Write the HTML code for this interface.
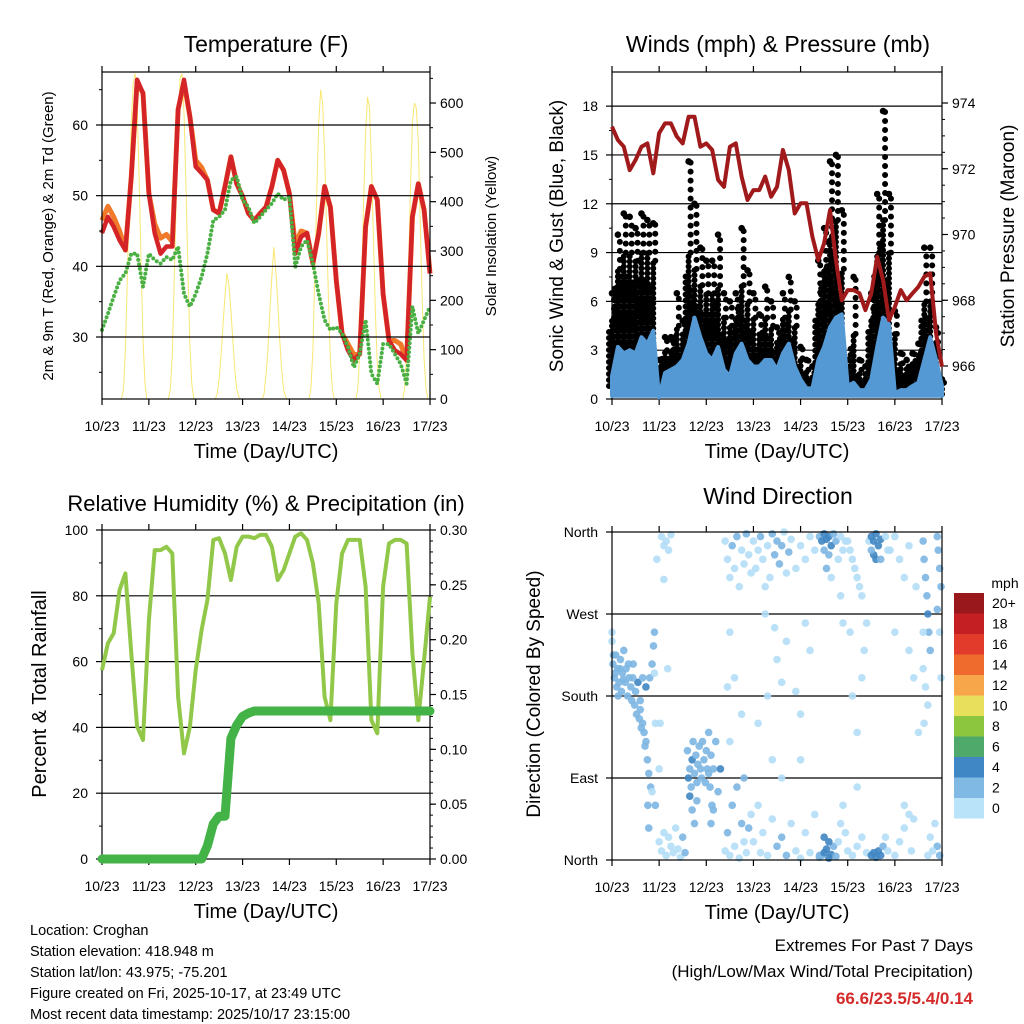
<!DOCTYPE html>
<html><head><meta charset="utf-8"><style>
html,body{margin:0;padding:0;background:#fff}
svg{display:block;font-family:"Liberation Sans",sans-serif}
</style></head><body>
<svg id="c" width="1024" height="1024" viewBox="0 0 1024 1024" xmlns="http://www.w3.org/2000/svg"></svg>
<script>
// ---- data (3-hourly samples, day 0..7) ----
const dayLabels=["10/23","11/23","12/23","13/23","14/23","15/23","16/23","17/23"];
const tempRed=[44.7,47,45.6,43.7,42.3,52.7,66.4,64.5, 50.3,44.7,41.8,42.8,42.8,62.2,66.4,61.2,54.1, 53.2,52.2,48,47.5,51.3,55.5,51.7,49.9, 47.5,46.5,47.5,48.4,51.3,55,53.6,50.3, 41.8,44.2,44.7,40.4,44.7,51.3,48.4,38, 30.5,28.1,26.7,27.6,45.6,51.3,49.4,36.1, 29.5,28.1,27.6,26.7,47,51.7,48,39];
const tempOrange=[46.5,48.5,47,45,42.3,52.7,66,64.5, 50.3,46,44,44.5,43.5,62.2,66,61.2,55, 54,52.2,48,47.5,51.3,55.5,51.7,49.9, 47.5,46.5,47.5,48.4,51.3,55,53.6,50.3, 43,45,44.7,40.4,44.7,51.3,48.4,38, 30.5,29,27.5,27.6,45.6,51.3,49.4,36.1, 29.5,29.5,29,26.7,47,51.7,48,39];
const dewGreen=[31,33.3,35.7,38,39,41.8,41.8,37.1, 41.8,40.9,40.4,41.3,40.9,42.8,36.1,34.3,36.1, 38.5,41.8,46.5,47,48,52.2,52.7,49.4, 48.4,46.1,47,48,48.9,50.3,49.4,49.9, 39.9,42.8,43.7,40.4,36.1,32.4,31,31.4, 30.5,28.6,25.7,27.6,32.4,24.8,23.4,29, 29,27.6,26.2,23.4,34.3,30.5,32.4,34.3];
// hourly solar insolation
const solar=[0,0,0,0,0,0,0,0,0,0,0,20,100,250,420,560,640,660,600,450,280,120,30,0,
0,0,0,0,0,0,0,0,0,0,0,20,90,240,400,560,650,660,580,430,260,110,30,0,
0,0,0,0,0,0,0,0,0,0,0,10,40,90,150,210,255,230,180,120,60,20,5,0,
0,0,0,0,0,0,0,0,0,0,0,10,50,100,180,250,308,260,200,120,60,20,5,0,
0,0,0,0,0,0,0,0,0,0,0,20,100,250,420,560,627,600,500,350,200,80,20,0,
0,0,0,0,0,0,0,0,0,0,0,20,90,230,400,540,612,590,480,330,180,70,20,0,
0,0,0,0,0,0,0,0,0,0,0,20,100,260,430,560,600,590,520,360,200,80,20,0,0];
const pressure=[973.28,972.87,972.67,971.96,972.27,972.67,972.77,971.86, 973.08,973.38,973.38,972.98,972.77,973.58,973.58,972.67,972.77, 972.57,971.66,971.45,972.67,972.77,971.76,971.05,971.35, 971.35,971.76,971.15,971.45,972.57,971.96,970.64,970.95, 970.95,969.93,969.22,969.73,970.74,969.22,968.0,968.31, 968.31,968.21,967.70,968.21,969.32,968.61,967.40,967.80, 968.31,968.0,968.21,968.41,968.72,968.82,966.99,965.98];
const windSpd=[1.4,3.2,2.8,3.0,2.8,3.8,3.4,4.2, 0.1,1.6,1.8,2.0,2.4,3.4,5.0,3.8,2.8, 2.4,3.2,1.8,1.4,2.8,3.4,2.4,2.0, 2.0,2.4,2.4,1.8,2.8,3.4,2.0,1.2, 0.65,0.65,2.4,3.2,4.4,5.0,5.2,0.8, 1.0,0.55,0.55,1.2,3.2,5.0,4.6,0.35, 0.55,0.55,0.8,1.0,2.4,3.8,2.4,0.8];
const gustHi=[6.5,10.1,11.4,11.2,10.5,11.4,11,10.8, 2.4,3.8,3.8,6.5,4.8,14.6,12,9.3,8.5, 8.5,10.1,6.5,6,6.5,10.5,7.9,6.5, 5.2,6.9,6,4.4,6.5,7.5,6,3.2, 2.4,2.0,8.5,10.5,14.6,15,11.6,2.4, 7.5,2.4,2,6.5,12.6,17.7,12.6,5.4, 2.8,2.4,2.8,3.4,9.3,9.3,4.4,1.2];
const gustCore=[5,8,9,9,8.5,9,9,8.5, 2,3,3,4.5,4,9,8,7,6.5, 6.5,7,5,4.5,5,7,6,5, 4,5,4.5,3.5,5,5.5,4.5,2.5, 1.8,1.6,6,8,10,11,8,2, 4,1.8,1.6,5,9,11,9,4, 2.2,2,2.2,2.8,6,6,3.5,1];
const gustLo=[0.8,2,2,2,2,2.5,2.5,2.5, 0.3,1,1,1.2,1.2,2,3,2,1.5, 1.5,1.5,1,1,1.5,2,1.5,1.2, 1.2,1.5,1.5,1,1.5,2,1,0.5, 0.4,0.4,1.5,2,3,3.5,2.5,0.4, 0.5,0.3,0.3,0.8,2,3,2.5,0.3, 0.3,0.3,0.3,0.5,1.5,2,1,0.3];
const rh=[57.4,65.6,68.6,81.8,86.8,62.5,40.2,36.2, 72.6,93.9,93.9,94.9,92.9,49.3,32.1,40.2,57.4, 69.6,78.7,97,97.5,92.9,84.8,94.9,98, 98,97.5,98.5,98.5,94.9,84.8,87.8,92.9, 98,99,97,89.9,77.7,49.3,42.2,77.7, 92.9,97,97,97,82.8,42.2,38.2,82.8, 95.9,97,97,95.9,62.5,42.2,60.5,79.7];
const precip=[0,0,0,0,0,0,0,0, 0,0,0,0,0,0,0,0,0, 0,0.012,0.032,0.039,0.039,0.11,0.122,0.13, 0.133,0.135,0.135,0.135,0.135,0.135,0.135,0.135, 0.135,0.135,0.135,0.135,0.135,0.135,0.135,0.135, 0.135,0.135,0.135,0.135,0.135,0.135,0.135,0.135, 0.135,0.135,0.135,0.135,0.135,0.135,0.135,0.135];
const dirDay=[0.02,0.05,0.08,0.1,0.12,0.15,0.18,0.2,0.22,0.25,0.28,0.3,0.33,0.36,0.4,0.42,0.45,0.48,0.5,0.52,0.55,0.58,0.6,0.62,0.65,0.68,0.7,0.72,0.75,0.78,0.8,0.82,0.85,0.88,0.9,0.92,0,0,0.03,0.07,0.13,0.17,0.24,0.35,0.44,0.6,0.65,0.72,0.76,0.78,0.9,0.92,0.85,
1.0,1.05,1.1,1.15,1.2,1.25,1.3,1.35,1.4,1.45,1.05,1.1,1.15,1.2,1.25,1.0,1.02,0.95,1.1,1.18,1.5,1.55,
1.6,1.62,1.65,1.68,1.7,1.72,1.75,1.78,1.8,1.82,1.85,1.88,1.9,1.92,1.95,1.98,2.0,2.02,2.05,2.08,2.1,2.12,2.15,2.2,2.25,1.65,1.7,1.75,1.8,2.1,2.15,2.05,2.3,
2.4,2.45,2.5,2.55,2.6,2.65,2.7,2.75,2.8,2.85,2.9,2.95,2.4,2.45,2.5,2.55,2.6,2.65,2.7,2.75,2.8,2.85,2.9,2.95,2.5,2.6,2.75,2.5,2.8,2.45,
3.0,3.05,3.1,3.15,3.2,3.25,3.3,3.35,3.4,3.45,3.5,3.55,3.6,3.65,3.7,3.75,3.8,3.9,4.0,4.1,4.2,4.3,
3.0,3.1,3.15,3.2,3.3,3.4,3.5,3.6,3.7,3.8,3.9,4.0,4.1,4.2,4.3,4.4,
3.1,3.3,3.5,3.6,3.7,3.9,4.0,4.1,4.2,3.4,3.6,4.0,3.25,3.45,
4.4,4.45,4.5,4.55,4.6,4.65,4.7,4.75,4.5,4.6,4.8,4.85,4.9,4.95,4.85,4.9,4.65,4.55,
4.4,4.45,4.5,4.55,4.6,4.65,4.7,4.75,4.8,4.85,4.9,4.95,4.5,4.6,
5.0,5.05,5.1,5.15,5.2,5.25,5.3,5.0,5.1,5.2,5.3,5.4,5.05,5.1,5.2,5.3,5.35,5.4,5.45,5.2,
5.5,5.55,5.6,5.65,5.7,5.55,5.6,5.5,5.7,5.8,5.85,
5.5,5.55,5.6,5.65,5.7,5.75,5.8,5.85,
5.9,6.0,6.1,6.2,6.3,6.0,6.1,6.2,6.3,6.35,6.4,6.2,6.0,6.3,6.4,6.5,6.45,
6.6,6.62,6.65,6.68,6.7,6.72,6.75,6.6,6.65,6.7,6.62,6.6,6.9,6.92,6.95,6.98,6.9,6.95,6.98,6.9,6.95,6.85,6.8,6.75,6.7];
const dirDeg=[215,200,225,190,210,195,220,185,205,230,195,210,180,200,190,175,215,170,185,160,195,155,175,145,200,140,125,190,110,95,200,80,215,235,250,60,250,240,225,205,180,210,198,215,200,165,150,130,60,35,205,150,75,
20,10,30,5,25,15,8,35,12,3,355,345,350,340,357,100,150,330,308,210,25,8,
120,90,100,80,110,130,95,115,85,105,125,100,90,130,110,85,120,100,95,80,115,60,100,130,75,70,55,40,65,40,55,140,100,
10,30,5,60,15,80,2,40,20,8,35,50,350,330,310,345,320,355,300,340,325,358,335,315,250,200,160,130,90,190,
350,320,340,355,330,300,345,310,358,335,350,325,345,360,315,338,352,320,345,330,355,340,
20,60,8,30,5,45,15,25,5,40,10,2,30,8,50,5,
150,180,220,195,240,185,160,260,230,110,90,110,270,255,
355,350,358,352,355,345,358,350,340,335,330,355,340,350,290,260,310,320,
3,5,8,12,2,6,15,4,20,40,60,30,25,20,
350,340,330,320,310,300,290,10,5,15,25,8,250,180,140,200,230,260,350,80,
355,350,358,345,352,335,330,340,330,355,340,
5,8,3,10,5,15,25,10,
340,355,330,310,345,5,20,35,50,10,45,60,250,230,200,140,300,
350,330,310,290,270,250,230,210,190,170,150,250,355,340,320,300,275,250,200,15,5,40,10,25,5];
const dirSpd=[3,3,3,3,2.5,3,3,3,3,3,3,3,3,3,3,3,3,3,3,3,4.5,3,3,3,3,3,3,4.5,3,3,3,3,3,3,3,3,1,1,3,3,3,3,3,3,3,3,3,3,3,3,1,1,1,
1,1,1,1,1,1,1,1,1,1,1,1,1,1,1,1,1,1,1,1,3,3,
3,5,3,3,4.5,3,3,3,3,3,3,3,3,3,3,3,3,3,3,3,3,3,3,3,3,4.5,3,3,3,3,3,3,4.5,
1,3,1,3,1,3,1,3,1,1,3,1,1,1,1,3,1,3,1,1,1,3,1,1,1,1,1,1,3,1,
1,1,1,3,1,1,1,1,3,3,3,3,3,1,1,3,1,1,1,1,1,1,
1,1,1,1,1,1,3,3,3,1,1,1,1,1,1,3,
1,1,1,1,1,1,1,1,1,1,1,1,1,1,
3,4.5,5,5.5,5,4.5,3,3,3,3,1,1,1,1,1,1,1,3,
3,3,4.5,5,5.5,5,3,3,1,1,1,1,5,4.5,
1,1,1,1,1,1,1,1,1,1,1,1,1,1,1,1,1,1,1,1,
4.5,5.5,5.5,5,4.5,5,5.5,3,3,1,1,
5,5.5,5.5,5,4.5,3,1,1,
1,1,1,1,1,1,1,1,1,1,1,1,1,1,1,1,1,
3,3,3,3,4.5,3,3,1,1,1,1,1,3,3,3,3,3,1,1,3,3,1,1,1,1];
const cbLabels=["20+","18","16","14","12","10","8","6","4","2","0"];
const cbColors=["#98181c","#c41f22","#e23a2b","#ef6a2d","#f8a64a","#e8df5c","#8cc63f","#4ea96b","#3f88c5","#80b9e4","#b9e3f8"];

// ---- helpers ----
const NS="http://www.w3.org/2000/svg";
const svg=document.getElementById('c');
function mk(tag,attrs,parent){const e=document.createElementNS(NS,tag);for(const k in attrs)e.setAttribute(k,attrs[k]);(parent||svg).appendChild(e);return e;}
function txt(s,x,y,size,anchor,parent,rot,extra){const a={x:x,y:y,'font-size':size,'text-anchor':anchor||'middle',fill:'#000'};if(rot)a.transform='rotate(-90 '+x+' '+y+')';if(extra)for(const k in extra)a[k]=extra[k];const t=mk('text',a,parent);t.textContent=s;return t;}
function linePath(xs,ys){let d='';for(let i=0;i<xs.length;i++)d+=(i?'L':'M')+xs[i].toFixed(1)+' '+ys[i].toFixed(1);return d;}

function panel(p){
  const g=mk('g',{});
  
  
  p.g=g;
  p.x=d=>p.x0+d*(p.x1-p.x0)/7;
  return p;
}
function frame(p,leftTicks,leftLab,yl,rightTicks,rightLab,yr,minorL,minorR,grid){
  const g=p.g;
  if(grid){leftTicks.forEach(v=>{const y=yl(v);if(y>p.y0+1&&y<p.y1-1){const l=mk('line',{x1:p.x0,x2:p.x1,y1:y,y2:y,stroke:'#000','stroke-width':1.2},g);}});}
  const r=mk('rect',{x:p.x0,y:p.y0,width:p.x1-p.x0,height:p.y1-p.y0,fill:'none',stroke:'#000','stroke-width':1.2},g);
  
  for(let d=0;d<=7;d++){const x=p.x(d);
    mk('line',{x1:x,x2:x,y1:p.y1,y2:p.y1+6,stroke:'#000','stroke-width':1.2},g);
    mk('line',{x1:x,x2:x,y1:p.y0,y2:p.y0-6,stroke:'#000','stroke-width':1.2},g);
    const t=txt(dayLabels[d],x,p.y1+32,14,'middle',g);}
  const xt=txt('Time (Day/UTC)',(p.x0+p.x1)/2,p.y1+59,20,'middle',g);
  leftTicks.forEach((v,i)=>{const y=yl(v);mk('line',{x1:p.x0-6,x2:p.x0,y1:y,y2:y,stroke:'#000','stroke-width':1.2},g);
    const t=txt(leftLab[i],p.x0-14,y+5,14,'end',g);});
  (minorL||[]).forEach(v=>{const y=yl(v);mk('line',{x1:p.x0-3,x2:p.x0,y1:y,y2:y,stroke:'#000','stroke-width':1},g);});
  if(rightTicks){rightTicks.forEach((v,i)=>{const y=yr(v);mk('line',{x1:p.x1,x2:p.x1+6,y1:y,y2:y,stroke:'#000','stroke-width':1.2},g);
    const t=txt(rightLab[i],p.x1+10,y+5,14,'start',g);});
    (minorR||[]).forEach(v=>{const y=yr(v);mk('line',{x1:p.x1,x2:p.x1+3,y1:y,y2:y,stroke:'#000','stroke-width':1},g);});}
}
function rng(a,b,s){const r=[];for(let v=a;v<=b+1e-9;v+=s)r.push(+v.toFixed(4));return r;}
const step3=i=>i*0.125;

// ===== Panel 1: temperature =====
const p1=panel({name:'temperature-panel',x0:102,x1:430,y0:72,y1:399});
const t1=txt('Temperature (F)',266,52,23,'middle');
const yT=v=>337-(v-30)*7.0667, yS=v=>399-v*0.4933;
{
  const g=p1.g;
  const sx=solar.map((v,i)=>p1.x(i/24)), sy=solar.map(v=>yS(v));
  const s=mk('path',{d:linePath(sx,sy),fill:'none',stroke:'#f7e35a','stroke-width':1,'stroke-opacity':0.85},g);
  
  const xs=tempRed.map((v,i)=>p1.x(step3(i)));
  const o=mk('path',{d:linePath(xs,tempOrange.map(yT)),fill:'none',stroke:'#f07a2a','stroke-width':5,'stroke-linejoin':'round'},g);
  
  const r=mk('path',{d:linePath(xs,tempRed.map(yT)),fill:'none',stroke:'#d42427','stroke-width':4.5,'stroke-linejoin':'round'},g);
  
  const gr=mk('path',{d:linePath(xs,dewGreen.map(yT)),fill:'none',stroke:'#4bb044','stroke-width':4,'stroke-dasharray':'0 4.5','stroke-linecap':'round','stroke-linejoin':'round'},g);
  
}
frame(p1,[30,40,50,60],['30','40','50','60'],yT,rng(0,600,100),['0','100','200','300','400','500','600'],yS,[25,35,45,55,65],rng(50,650,100),true);
{const a=txt('2m & 9m T (Red, Orange) & 2m Td (Green)',53,236,15,'middle',null,true);
 const b=txt('Solar Insolation (Yellow)',496,236,15,'middle',null,true);}

// ===== Panel 2: winds & pressure =====
const p2=panel({name:'winds-pressure-panel',x0:612,x1:942,y0:72,y1:399});
const t2=txt('Winds (mph) & Pressure (mb)',778,52,23,'middle');
const yW=v=>399-v*16.27, yP=v=>366-(v-966)*32.875;
frame(p2,rng(0,18,3),['0','3','6','9','12','15','18'],yW,rng(966,974,2),['966','968','970','972','974'],yP,[1.5,4.5,7.5,10.5,13.5,16.5],rng(965.5,973.5,0.5),true);
{
  const g=p2.g;
  gustHi.forEach((v,i)=>{const x=p2.x(step3(i));
    const c=mk('line',{x1:x,x2:x,y1:yW(gustLo[i]),y2:yW(gustCore[i]),stroke:'#000','stroke-width':6,'stroke-dasharray':'0 5','stroke-linecap':'round'},g);
    
    const c2=mk('line',{x1:x-3,x2:x-3,y1:yW(gustLo[i]),y2:yW(gustCore[i]*0.85),stroke:'#000','stroke-width':6,'stroke-dasharray':'0 6','stroke-linecap':'round'},g);
    
    const u=mk('line',{x1:x+2,x2:x+2,y1:yW(gustCore[i]),y2:yW(v),stroke:'#000','stroke-width':6,'stroke-dasharray':'0 9','stroke-linecap':'round'},g);
    
    const d=mk('circle',{cx:x,cy:yW(v),r:3.3,fill:'#000'},g);
    });
  const xs=windSpd.map((v,i)=>p2.x(step3(i)));
  const area='M'+xs[0]+' '+yW(0.2)+linePath(xs,windSpd.map(yW)).replace('M','L')+'L'+xs[xs.length-1]+' '+yW(0.2)+'Z';
  const a=mk('path',{d:area,fill:'#5499d3',stroke:'#5499d3','stroke-width':4,'stroke-linejoin':'round'},g);
  
  const pr=mk('path',{d:linePath(xs,pressure.map(yP)),fill:'none',stroke:'#a01a1c','stroke-width':4,'stroke-linejoin':'round'},g);
  
}
{const a=txt('Sonic Wind & Gust (Blue, Black)',563,236,19,'middle',null,true);
 const b=txt('Station Pressure (Maroon)',1014,236,19,'middle',null,true);}

// ===== Panel 3: RH & precip =====
const p3=panel({name:'humidity-precip-panel',x0:102,x1:430,y0:530,y1:859});
const t3=txt('Relative Humidity (%) & Precipitation (in)',266,511,22,'middle');
const yH=v=>859-v*3.29, yR=v=>859-v/0.3*329;
frame(p3,rng(0,100,20),['0','20','40','60','80','100'],yH,rng(0,0.3,0.05),['0.00','0.05','0.10','0.15','0.20','0.25','0.30'],yR,rng(10,90,20),rng(0.01,0.29,0.01),true);
{
  const g=p3.g;const xs=rh.map((v,i)=>p3.x(step3(i)));
  const l=mk('path',{d:linePath(xs,rh.map(yH)),fill:'none',stroke:'#92c84a','stroke-width':4,'stroke-linejoin':'round'},g);
  
  const p=mk('path',{d:linePath(xs,precip.map(yR)),fill:'none',stroke:'#43b347','stroke-width':9,'stroke-linejoin':'round','stroke-linecap':'round'},g);
  
}
{const a=txt('Percent & Total Rainfall',46,694,20,'middle',null,true);}

// ===== Panel 4: wind direction =====
const p4=panel({name:'wind-direction-panel',x0:612,x1:942,y0:532,y1:860});
const t4=txt('Wind Direction',778,504,23,'middle');
const yD=v=>860-v*(328/360);
{
  const g=p4.g;
  [90,180,270].forEach(v=>{const l=mk('line',{x1:p4.x0,x2:p4.x1,y1:yD(v),y2:yD(v),stroke:'#000','stroke-width':1.2},g);});
  const col=s=>s<2?'#b3def6':(s<4?'#7db6e2':'#3f86c2');
  dirDay.forEach((d,i)=>{const c=mk('circle',{cx:p4.x(d),cy:yD(dirDeg[i]),r:3.8,fill:col(dirSpd[i]),'fill-opacity':0.9},g);
    });
}
frame(p4,[0,90,180,270,360],['North','East','South','West','North'],yD,null,null,null,null,null,false);
{const a=txt('Direction (Colored By Speed)',540,694,19,'middle',null,true);}
// colorbar
{
  const g=mk('g',{});
  const t=txt('mph',1005,588,14,'middle',g);
  cbColors.forEach((c,i)=>{const y=593+i*20.5;
    const r=mk('rect',{x:954,y:y,width:30,height:20.5,fill:c},g);
    const l=txt(cbLabels[i],992,y+15,14,'start',g);});
}

// ===== footer =====
{
  const lines=['Location: Croghan','Station elevation: 418.948 m','Station lat/lon: 43.975; -75.201','Figure created on Fri, 2025-10-17, at 23:49 UTC','Most recent data timestamp: 2025/10/17 23:15:00'];
  lines.forEach((s,i)=>{const t=txt(s,30,935+i*21,14.5,'start');});
  const a=txt('Extremes For Past 7 Days',973,951,17,'end');
  const b=txt('(High/Low/Max Wind/Total Precipitation)',973,977,17,'end');
  const c=txt('66.6/23.5/5.4/0.14',973,1004,17,'end',null,false,{fill:'#d42a2a','font-weight':'bold'});
}
</script>
</body></html>
